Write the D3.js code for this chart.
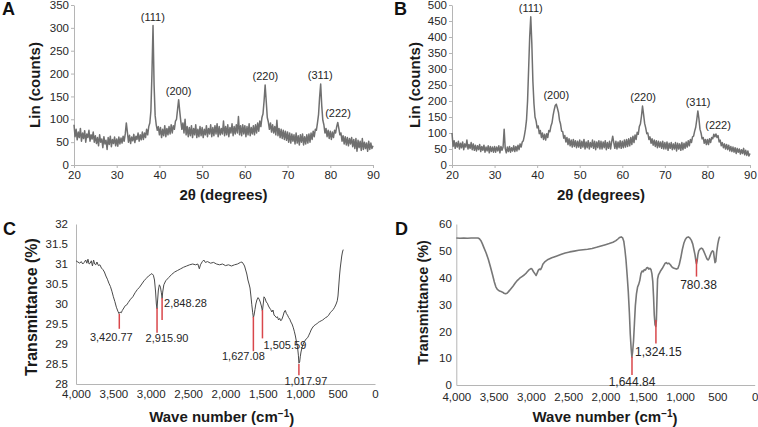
<!DOCTYPE html>
<html><head><meta charset="utf-8">
<script src="https://cdn.jsdelivr.net/npm/d3@7"></script>
<style>
body{margin:0;background:#fff;}
svg{display:block;font-family:"Liberation Sans",Arial,Helvetica,sans-serif;}
</style></head><body>
<svg id="chart" width="758" height="427"></svg>
<script>
// ---------------- DATA ----------------
// XRD patterns: intensity (counts) read at 0.25° steps of 2θ from 20° to 90°
const twoThetaStart = 20, twoThetaEnd = 90, twoThetaStep = 0.25;
const countsA = [
88,62,78,55,72,60,80,52,70,58,75,50,68,60,76,52,66,57,72,50,
64,47,60,42,66,50,57,38,62,46,54,34,60,45,63,40,56,47,61,42,
57,41,61,46,59,48,63,52,68,92,72,50,65,47,61,53,67,49,63,56,
70,52,66,55,72,56,70,60,78,66,84,92,118,200,305,175,108,88,76,84,
66,82,60,78,64,86,62,80,66,84,68,88,70,86,78,96,100,122,143,118,
96,78,92,70,100,66,84,62,82,64,86,60,80,66,88,60,78,62,84,64,
82,60,78,66,86,62,80,68,88,62,82,64,86,68,90,62,84,66,80,68,
96,64,84,66,88,62,82,70,90,64,84,68,88,70,106,66,86,64,88,68,
86,62,84,66,90,64,82,68,86,66,88,70,92,74,96,84,104,112,140,175,
140,104,94,78,92,72,88,70,84,66,98,64,80,60,78,58,76,56,74,54,
72,50,70,48,68,52,66,46,70,48,64,44,66,50,68,44,62,46,66,48,
68,50,70,56,74,62,78,76,92,110,148,177,130,98,88,70,80,62,76,58,
74,56,72,60,76,70,84,93,80,66,70,52,64,46,62,44,60,42,58,46,
60,40,56,36,58,30,54,38,52,32,58,34,50,36,48,30,52,34,48,36,
42];
const countsB = [
100,58,76,52,70,56,74,50,68,54,72,48,66,56,78,50,64,52,70,48,
66,46,62,44,60,48,64,42,58,46,62,40,56,44,60,38,58,42,56,40,
58,40,56,44,60,38,58,46,56,112,52,38,56,42,58,40,54,44,60,42,
58,44,62,48,66,56,72,76,92,112,140,200,300,400,463,380,262,192,150,138,
116,122,98,108,86,100,80,96,78,98,86,108,104,122,132,155,172,186,190,178,
165,140,128,106,104,84,92,72,86,64,82,60,78,56,80,58,76,54,74,56,
78,52,74,56,80,50,72,54,76,50,70,56,78,52,74,48,72,54,76,50,
74,50,72,54,76,48,70,52,74,50,72,90,70,52,74,50,72,54,76,52,
74,54,78,56,80,58,82,60,86,64,90,70,94,80,102,96,120,128,152,184,
158,130,116,98,100,80,88,68,82,62,78,58,76,54,74,56,72,52,74,50,
70,50,72,46,68,52,70,48,66,50,70,44,68,50,66,46,70,48,68,52,
72,56,76,60,80,70,88,90,106,118,142,169,145,112,100,82,86,68,80,64,
80,64,82,70,86,82,96,88,97,86,92,72,78,60,70,54,66,50,64,48,
62,44,58,42,56,40,54,36,52,40,50,34,48,36,52,32,46,30,44,28,
36];
const hklLabels = ["(111)","(200)","(220)","(311)","(222)"];
const hklAngleA = [38.45, 44.5, 64.8, 77.65, 81.8];
const hklAngleB = [38.5, 44.5, 64.9, 77.8, 82.5];
const xrdXTicks = [20,30,40,50,60,70,80,90];
const yTicksA = [0,50,100,150,200,250,300,350];
const yTicksB = [0,50,100,150,200,250,300,350,400,450,500];

// FTIR spectra: [wave number (cm-1), transmittance (%)]
const ftirC = [[4000,31.08],[3975,31.05],[3950,31.02],[3930,31.06],[3910,31.0],[3890,31.04],[3870,31.1],[3855,31.02],[3840,31.12],[3825,31.0],[3810,31.02],[3795,31.08],[3780,30.95],[3765,31.1],[3750,31.0],[3735,30.98],[3720,31.05],[3700,30.96],[3680,30.98],[3660,30.9],[3640,30.86],[3620,30.8],[3600,30.7],[3580,30.62],[3560,30.52],[3540,30.44],[3520,30.32],[3500,30.18],[3480,30.06],[3460,29.92],[3440,29.82],[3425,29.76],[3410,29.8],[3395,29.78],[3380,29.84],[3360,29.9],[3340,29.96],[3320,29.98],[3300,30.04],[3270,30.12],[3240,30.18],[3210,30.28],[3180,30.36],[3150,30.42],[3120,30.5],[3090,30.58],[3060,30.64],[3030,30.7],[3000,30.74],[2985,30.76],[2965,30.72],[2950,30.6],[2935,30.3],[2925,30.0],[2916,29.88],[2908,30.1],[2898,30.35],[2885,30.48],[2870,30.42],[2858,30.28],[2848,30.14],[2840,30.3],[2825,30.48],[2800,30.58],[2760,30.66],[2720,30.74],[2680,30.8],[2640,30.84],[2600,30.88],[2560,30.92],[2520,30.95],[2480,30.98],[2440,31.0],[2400,30.98],[2370,31.0],[2350,30.88],[2335,30.98],[2310,31.06],[2290,31.1],[2270,31.04],[2240,31.06],[2200,31.02],[2160,31.04],[2120,31.0],[2080,30.98],[2040,31.0],[2000,30.96],[1960,30.98],[1920,30.95],[1880,30.98],[1840,31.0],[1800,31.04],[1780,31.05],[1760,31.0],[1745,30.95],[1730,30.85],[1715,30.75],[1700,30.6],[1685,30.5],[1672,30.4],[1660,30.2],[1648,29.98],[1636,29.78],[1627,29.66],[1618,29.72],[1606,29.86],[1594,30.0],[1580,30.1],[1565,30.16],[1550,30.12],[1535,30.05],[1520,29.95],[1506,29.82],[1495,30.0],[1485,30.18],[1470,30.14],[1455,30.05],[1440,30.02],[1425,29.95],[1410,29.9],[1395,29.86],[1380,29.8],[1365,29.85],[1350,29.72],[1335,29.7],[1320,29.66],[1305,29.68],[1290,29.6],[1275,29.64],[1260,29.58],[1245,29.62],[1230,29.7],[1215,29.8],[1200,29.84],[1185,29.76],[1170,29.72],[1155,29.66],[1140,29.62],[1125,29.55],[1110,29.5],[1095,29.42],[1080,29.32],[1065,29.2],[1050,29.05],[1035,28.9],[1025,28.72],[1018,28.52],[1008,28.55],[1000,28.68],[990,28.8],[975,28.92],[960,29.0],[945,29.06],[930,29.1],[915,29.14],[900,29.16],[885,29.22],[870,29.28],[855,29.35],[840,29.4],[820,29.45],[800,29.48],[780,29.5],[760,29.54],[740,29.56],[720,29.58],[700,29.6],[680,29.63],[660,29.66],[640,29.68],[620,29.72],[600,29.78],[580,29.82],[560,29.86],[540,29.92],[520,30.0],[505,30.08],[495,30.2],[485,30.45],[475,30.7],[465,30.9],[455,31.05],[445,31.2],[435,31.3],[425,31.36]];
const ftirD = [[4000,54.8],[3950,54.7],[3900,54.8],[3850,54.7],[3800,54.8],[3750,54.8],[3710,54.8],[3690,54.5],[3670,53.8],[3650,52.6],[3630,51.2],[3600,49.2],[3570,46.8],[3540,43.8],[3510,40.6],[3490,38.4],[3470,36.6],[3450,35.6],[3420,35.0],[3400,34.8],[3380,34.6],[3360,34.2],[3340,34.0],[3320,34.2],[3300,34.8],[3270,35.8],[3240,36.8],[3210,38.0],[3180,39.0],[3150,39.8],[3120,40.4],[3090,41.0],[3060,41.8],[3030,42.8],[3000,43.4],[2985,43.2],[2965,42.2],[2945,41.4],[2930,40.8],[2915,41.8],[2900,42.8],[2885,43.2],[2870,43.0],[2855,43.8],[2840,45.0],[2810,46.0],[2770,46.8],[2720,47.4],[2660,48.0],[2600,48.6],[2540,49.2],[2480,49.6],[2420,49.9],[2360,50.2],[2300,50.4],[2240,50.6],[2180,50.9],[2120,51.3],[2060,51.8],[2000,52.3],[1950,52.7],[1900,53.2],[1860,53.8],[1830,54.5],[1810,55.0],[1790,55.2],[1770,54.8],[1755,53.6],[1740,50.5],[1725,46.5],[1710,41.0],[1695,35.0],[1680,27.0],[1668,19.0],[1656,13.5],[1646,10.4],[1636,12.5],[1624,16.5],[1612,23.0],[1600,29.5],[1585,34.0],[1570,36.5],[1555,37.5],[1540,39.0],[1525,41.5],[1510,42.5],[1495,42.2],[1480,43.0],[1465,42.8],[1450,43.6],[1435,43.8],[1420,43.2],[1405,43.5],[1390,43.0],[1378,41.5],[1366,38.5],[1356,33.0],[1346,26.0],[1336,22.5],[1326,21.8],[1318,24.0],[1310,32.0],[1302,39.5],[1290,41.0],[1275,41.8],[1260,42.6],[1240,43.4],[1220,44.4],[1200,45.4],[1185,45.6],[1170,45.2],[1150,45.4],[1130,44.8],[1110,44.0],[1090,43.6],[1070,43.4],[1050,43.2],[1030,43.4],[1010,45.0],[990,47.5],[970,50.5],[950,52.8],[930,54.2],[910,55.0],[890,55.2],[870,54.8],[850,54.0],[830,52.5],[815,50.5],[800,48.5],[790,46.5],[781,45.2],[772,46.2],[762,48.5],[750,50.0],[735,50.6],[715,51.0],[700,50.8],[685,50.0],[670,49.0],[655,48.0],[640,47.0],[625,46.6],[610,47.2],[595,48.4],[580,49.5],[565,50.0],[552,49.6],[542,47.5],[532,45.6],[522,46.0],[510,49.5],[495,52.5],[480,54.5],[468,55.3]];
const waveTicks = [4000,3500,3000,2500,2000,1500,1000,500,0];
const yTicksC = [28,28.5,29,29.5,30,30.5,31,31.5,32];
const yTicksD = [0,10,20,30,40,50,60];

// Peak annotations (wave number, label, red-mark top and bottom values)
const peaksC = [3420.77, 2915.90, 2848.28, 1627.08, 1505.59, 1017.97];
const peakLabelsC = ["3,420.77","2,915.90","2,848.28","1,627.08","1,505.59","1,017.97"];
const markTopC = [29.75, 29.9, 30.15, 29.68, 29.85, 28.5];
const markBottomC = [29.38, 29.28, 29.6, 28.82, 29.14, 28.22];
const peaksD = [1644.84, 1324.15, 780.38];
const peakLabelsD = ["1,644.84","1,324.15","780.38"];
const markTopD = [10.5, 24.2, 47.0];
const markBottomD = [3.7, 15.5, 40.4];

// ---------------- DRAWING ----------------
const svg = d3.select("#chart");
const AXIS = "#b5b5b5", TXT = "#262626", RED = "#d9474b";
const twoTheta = d3.range(countsA.length).map(i => twoThetaStart + i * twoThetaStep);

function styleAxis(g, fs) {
  g.selectAll(".domain").attr("stroke", AXIS).attr("stroke-width", 1);
  g.selectAll(".tick line").attr("stroke", AXIS);
  g.selectAll(".tick text").attr("fill", TXT).style("font-size", fs + "px");
  g.attr("font-family", null);
}

function xrdPanel(o) {
  const x = d3.scaleLinear().domain([twoThetaStart, twoThetaEnd]).range(o.xr);
  const y = d3.scaleLinear().domain([0, o.yMax]).range(o.yr);
  const gx = svg.append("g").attr("transform", `translate(0,${o.yr[0]})`)
    .call(d3.axisBottom(x).tickValues(xrdXTicks).tickFormat(d => String(d)).tickSize(3).tickSizeOuter(0).tickPadding(3));
  styleAxis(gx, 11.5);
  const gy = svg.append("g").attr("transform", `translate(${o.xr[0]},0)`)
    .call(d3.axisLeft(y).tickValues(o.yTicks).tickFormat(d => String(d)).tickSize(3).tickSizeOuter(0).tickPadding(2));
  styleAxis(gy, 11.5);
  const line = d3.line().x((d, i) => x(twoTheta[i])).y(d => y(d));
  svg.append("path").datum(o.counts).attr("d", line)
    .attr("fill", "none").attr("stroke", "#707070").attr("stroke-width", 1.5).attr("stroke-linejoin", "round");
  hklLabels.forEach((lab, k) => {
    const a = o.hkl[k];
    const near = o.counts.filter((c, i) => Math.abs(twoTheta[i] - a) <= 0.5);
    const top = d3.max(near);
    svg.append("text").attr("x", x(a)).attr("y", y(top) - 5)
      .attr("text-anchor", "middle").attr("fill", TXT).style("font-size", "11px").text(lab);
  });
  svg.append("text").attr("transform", `translate(${o.yTitleX},${(o.yr[0] + o.yr[1]) / 2}) rotate(-90)`)
    .attr("text-anchor", "middle").attr("dy", "0.35em").attr("fill", "#1a1a1a")
    .style("font-size", "15px").style("font-weight", "bold").text("Lin (counts)");
  svg.append("text").attr("x", (o.xr[0] + o.xr[1]) / 2).attr("y", 195).attr("dy", "0.35em")
    .attr("text-anchor", "middle").attr("fill", "#1a1a1a")
    .style("font-size", "15px").style("font-weight", "bold").text("2θ (degrees)");
  svg.append("text").attr("x", o.letterX).attr("y", 15).attr("fill", "#111")
    .style("font-size", "18px").style("font-weight", "bold").text(o.letter);
}

function ftirPanel(o) {
  const x = d3.scaleLinear().domain([4000, 0]).range(o.xr);
  const y = d3.scaleLinear().domain(o.yDom).range(o.yr);
  const gx = svg.append("g").attr("transform", `translate(0,${o.yr[0]})`)
    .call(d3.axisBottom(x).tickValues(waveTicks).tickFormat(d3.format(",")).tickSize(0).tickPadding(o.xPad));
  styleAxis(gx, 11.5);
  const gy = svg.append("g").attr("transform", `translate(${o.xr[0]},0)`)
    .call(d3.axisLeft(y).tickValues(o.yTicks).tickFormat(d => String(d)).tickSize(0).tickPadding(o.yPad));
  styleAxis(gy, 11.5);
  const line = d3.line().x(d => x(d[0])).y(d => y(d[1]));
  svg.append("path").datum(o.data).attr("d", line)
    .attr("fill", "none").attr("stroke", o.color).attr("stroke-width", o.sw).attr("stroke-linejoin", "round");
  o.peaks.forEach((p, k) => {
    const px = x(p);
    svg.append("line").attr("x1", px).attr("x2", px)
      .attr("y1", y(o.markTop[k])).attr("y2", y(o.markBottom[k]))
      .attr("stroke", RED).attr("stroke-width", 1.5);
    const L = o.lab[k];
    svg.append("text").attr("x", px + L[0]).attr("y", y(o.markBottom[k]) + L[1]).attr("dy", "0.35em")
      .attr("text-anchor", L[2]).attr("fill", TXT).style("font-size", o.labFs + "px").text(o.labels[k]);
  });
  svg.append("text").attr("transform", `translate(${o.yTitle[0]},${o.yTitle[1]}) rotate(-90)`)
    .attr("text-anchor", "middle").attr("dy", "0.35em").attr("fill", "#1a1a1a")
    .style("font-size", o.yTitleFs + "px").style("font-weight", "bold").text("Transmittance (%)");
  const t = svg.append("text").attr("x", o.xTitle[0]).attr("y", o.xTitle[1]).attr("dy", "0.35em")
    .attr("text-anchor", "middle").attr("fill", "#1a1a1a")
    .style("font-size", "15px").style("font-weight", "bold");
  t.append("tspan").text("Wave number (cm");
  t.append("tspan").attr("dy", "-0.45em").style("font-size", "10px").text("−1");
  t.append("tspan").attr("dy", "0.45em").text(")");
  svg.append("text").attr("x", o.letterX).attr("y", 235).attr("fill", "#111")
    .style("font-size", "18px").style("font-weight", "bold").text(o.letter);
}

xrdPanel({counts: countsA, yMax: 350, yTicks: yTicksA, xr: [74, 373], yr: [165, 5], hkl: hklAngleA,
  yTitleX: 35, letter: "A", letterX: 2});
xrdPanel({counts: countsB, yMax: 500, yTicks: yTicksB, xr: [452, 750], yr: [165, 5], hkl: hklAngleB,
  yTitleX: 415, letter: "B", letterX: 394});

ftirPanel({data: ftirC, yDom: [28, 32], yTicks: yTicksC, xr: [76, 375], yr: [384, 224],
  xPad: 6, yPad: 8, color: "#4a4a4a", sw: 1, peaks: peaksC, labels: peakLabelsC,
  markTop: markTopC, markBottom: markBottomC, labFs: 11,
  lab: [[-8, 8, "middle"], [10, 5, "middle"], [2, -17, "start"], [-10, 5, "middle"], [1, 7, "start"], [7, 5.5, "middle"]],
  yTitle: [31.5, 307], yTitleFs: 16, xTitle: [221.7, 416.5], letter: "C", letterX: 3});
ftirPanel({data: ftirD, yDom: [0, 60], yTicks: yTicksD, xr: [456.3, 754.7], yr: [385, 224],
  xPad: 7.5, yPad: 4.5, color: "#777", sw: 1.6, peaks: peaksD, labels: peakLabelsD,
  markTop: markTopD, markBottom: markBottomD, labFs: 12,
  lab: [[0, 7, "middle"], [2.5, 8.3, "middle"], [2, 8.4, "middle"]],
  yTitle: [423, 302.5], yTitleFs: 14.5, xTitle: [605, 416.5], letter: "D", letterX: 395});
</script>
</body></html>
